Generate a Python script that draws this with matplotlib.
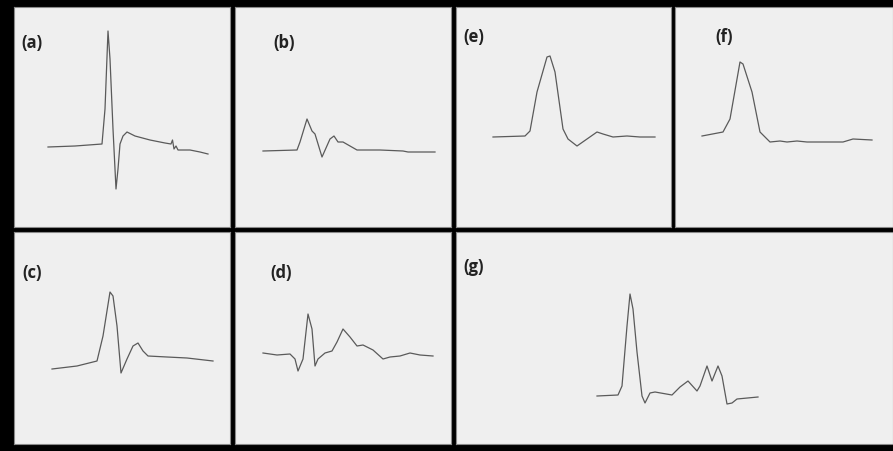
import matplotlib
matplotlib.use("Agg")
import matplotlib.pyplot as plt

W, H = 893, 452

# traces: t = position from panel left, v = height above starting baseline
a_t = [34, 61, 88, 91, 94, 96, 99, 102, 104, 106, 109, 113, 121, 136, 151, 157, 158.5, 160, 162, 164, 176, 186, 194]
a_v = [0, 1, 3, 38, 116, 88, 18, -42, -22, 3, 11, 15, 11, 7, 4, 3, 7, -2, 1, -3, -3, -5, -7]

b_t = [28, 62, 65, 72, 77, 80, 87, 95, 99, 103, 108, 115, 122, 145, 168, 173, 200]
b_v = [0, 1, 9, 32, 20, 17, -6, 12, 15, 9, 9, 5, 1, 1, 0, -1, -1]

e_t = [37, 69, 74, 81, 91, 94, 99, 107, 112, 121, 131, 141, 147, 157, 171, 184, 199]
e_v = [0, 1, 6, 45, 80, 81, 65, 8, -2, -9, -2, 5, 3, 0, 1, 0, 0]

f_t = [27, 48, 55, 65, 68, 77, 85, 95, 105, 112, 122, 132, 168, 178, 197]
f_v = [0, 4, 17, 74, 72, 44, 4, -6, -5, -6, -5, -6, -6, -3, -4]

c_t = [38, 63, 83, 89, 96, 99, 103, 107, 113, 119, 124, 129, 134, 153, 173, 199]
c_v = [0, 3, 8, 33, 77, 73, 43, -4, 10, 23, 26, 18, 13, 12, 11, 8]

d_t = [28, 42, 55, 60, 63, 68, 73, 77, 80, 83, 90, 97, 102, 108, 115, 122, 128, 138, 148, 155, 165, 175, 185, 198]
d_v = [0, -2, -1, -6, -18, -6, 39, 24, -13, -6, 0, 2, 11, 24, 16, 7, 8, 3, -6, -4, -3, 0, -2, -3]

g_t = [141, 162, 166, 171, 174, 177, 181, 186, 189, 194, 199, 216, 224, 232, 241, 244, 251, 256, 262, 266, 271, 276, 281, 302]
g_v = [0, 1, 10, 70, 102, 87, 44, 0, -7, 3, 4, 1, 9, 15, 5, 10, 30, 15, 30, 20, -8, -7, -3, -1]

labels = ["(a)", "(b)", "(e)", "(f)", "(c)", "(d)", "(g)"]
traces = [(a_t, a_v), (b_t, b_v), (e_t, e_v), (f_t, f_v), (c_t, c_v), (d_t, d_v), (g_t, g_v)]

# panel box in pixels (left, right, top, bottom), baseline row, label position
panels = [
    (14, 230, 8, 228, 148, 0.035, 0.84),
    (235, 451, 8, 228, 152, 0.176, 0.84),
    (456, 671, 8, 228, 138, 0.033, 0.87),
    (675, 893, 8, 228, 137, 0.183, 0.87),
    (14, 230, 233, 445, 370, 0.037, 0.81),
    (235, 451, 233, 445, 354, 0.162, 0.81),
    (456, 893, 233, 445, 397, 0.016, 0.84),
]

fig = plt.figure(figsize=(W / 100, H / 100), dpi=100, facecolor="black")

for (x0, x1, y0, y1, yb, lx, ly), (t, v), lab in zip(panels, traces, labels):
    ax = fig.add_axes([x0 / W, 1 - y1 / H, (x1 - x0) / W, (y1 - y0) / H])
    ax.set_facecolor("#efefef")
    ax.plot(t, v, color="#5a5a5a", lw=0.9)
    ax.set_xlim(0, x1 - x0)
    ax.set_ylim(yb - y1, yb - y0)
    ax.set_xticks([])
    ax.set_yticks([])
    for s in ax.spines.values():
        s.set_color("#8a8a8a")
        s.set_linewidth(0.8)
    ax.text(lx, ly, lab, transform=ax.transAxes, fontsize=12, fontweight="bold",
            family="Open Sans", color="#222222", va="center", ha="left")

fig.savefig("out.png", dpi=100, facecolor="black")
